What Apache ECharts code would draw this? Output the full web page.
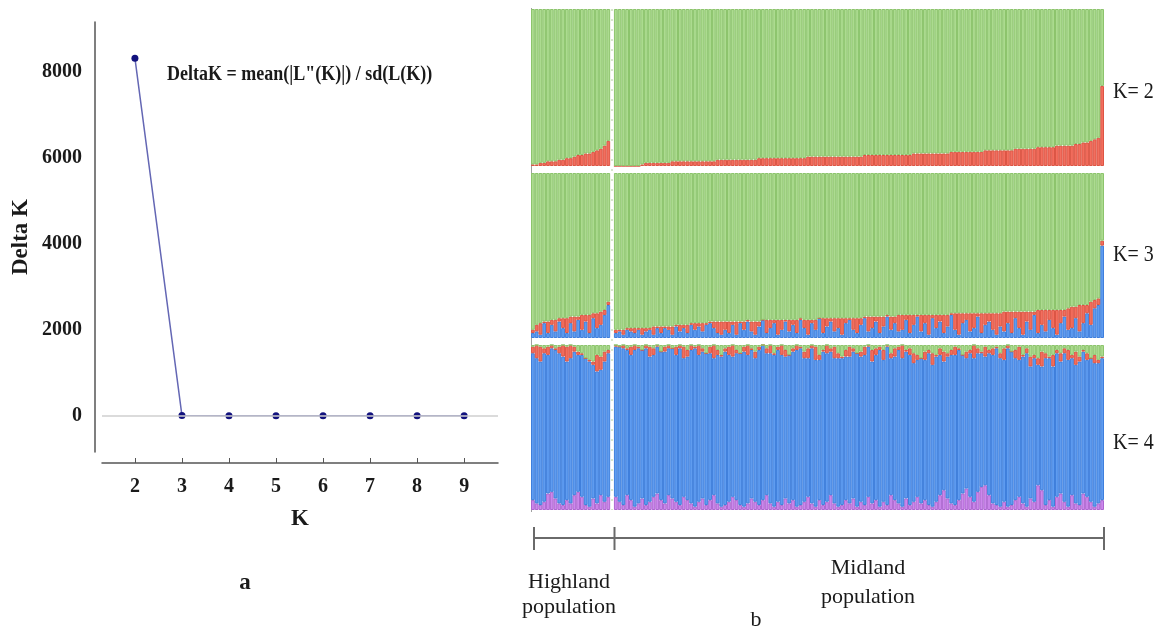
<!DOCTYPE html>
<html><head><meta charset="utf-8">
<script src="https://cdn.jsdelivr.net/npm/echarts@6/dist/echarts.min.js"></script>
<style>html,body{margin:0;padding:0;background:#fff}#c{width:1162px;height:630px}</style>
</head><body><div id="c"></div>
<script>
// ---------- Panel a: Delta K ----------
const kValues = [2, 3, 4, 5, 6, 7, 8, 9];
const deltaK = [8330, 2, 1, 1, 1, 1, 1, 1];
const yTickValues = [0, 2000, 4000, 6000, 8000];

// ---------- Panel b: ancestry proportions (%) ----------
// K = 2 (red share; green is the remainder)
const hlK2Red = [1,1,2,2,3,3,3,4,4,5,5,6,7,7,8,8,9,10,11,13,16];
const mlK2Red = [0,0,0,0,0,0,0,1,
  2,2,2,2,2,2,2,3,3,3,3,3,3,3,3,3,3,3,3,4,4,4,
  4,4,4,4,4,4,4,4,5,5,5,5,5,5,5,5,5,5,5,5,5,6,6,6,6,6,6,6,6,6,6,6,6,6,6,6,7,7,7,7,7,7,7,7,7,7,
  7,7,7,8,8,8,8,8,8,8,8,8,8,9,9,9,9,9,9,9,9,9,10,10,10,10,10,
  10,10,10,11,11,11,11,11,11,12,12,12,12,12,13,13,13,13,
  13,14,14,15,15,16,17,
  18,51];
// K = 3 (blue bottom, red middle; green is the remainder)
const hlK3Blue = [3,4,2,9,3,8,4,10,6,3,9,4,11,5,10,3,12,6,8,14,20];
const hlK3Red  = [2,4,7,1,7,3,7,2,6,9,4,9,2,9,4,11,3,9,8,3,2];
const mlK3Blue = [3,4,2,5,4,3,5,2,
  4,5,2,6,3,6,5,2,7,4,6,3,8,5,7,4,8,9,6,3,2,5,
  3,8,2,9,5,10,4,2,7,11,3,6,9,2,5,10,4,8,3,11,6,2,9,5,12,3,7,10,4,6,2,9,11,5,3,8,12,4,6,10,3,7,13,5,9,4,
  5,11,3,8,13,4,9,2,12,6,10,3,7,14,5,2,9,11,4,6,13,3,8,10,5,2,7,
  4,9,3,12,6,2,10,5,14,3,8,4,11,6,2,9,13,5,
  6,12,4,9,15,8,18,
  20,56];
const mlK3Red = [2,1,3,1,2,3,1,4,
  2,1,5,1,4,1,2,5,1,4,2,5,1,4,2,5,1,1,4,7,8,5,
  7,2,8,1,5,1,6,8,3,0,8,5,2,9,6,1,7,3,8,1,5,9,2,6,0,9,5,2,8,6,10,3,1,7,9,4,1,9,7,3,10,6,1,8,4,10,
  9,3,11,6,1,10,5,12,2,8,4,11,7,1,10,13,6,4,11,9,2,12,7,5,10,13,8,
  12,7,13,4,10,14,6,11,2,14,9,13,6,11,15,8,4,13,
  13,7,16,11,5,14,5,
  4,3];
// K = 4 (purple bottom, blue = remainder, red, green top)
const hlK4Purple = [6,4,3,5,10,11,7,4,3,6,4,9,11,8,3,2,7,4,9,5,8];
const hlK4Red    = [4,8,9,3,5,2,1,4,7,9,8,3,2,1,0,1,2,10,8,6,2];
const hlK4Green  = [1,0,1,2,1,0,2,1,0,1,0,1,4,5,8,9,10,6,7,4,3];
const mlK4Purple = [8,5,3,9,6,2,4,7,3,5,8,10,6,4,9,7,5,3,8,6,
  4,2,5,7,3,6,9,4,2,3,5,8,6,3,2,4,7,5,3,6,
  9,4,2,5,3,7,4,6,2,3,5,8,4,2,6,3,5,9,4,2,
  3,6,4,7,2,5,3,8,4,6,2,5,3,9,6,4,2,7,3,5,
  8,4,6,3,2,5,9,12,7,4,3,6,10,13,8,5,11,14,15,9,
  4,3,2,5,2,3,6,8,4,2,7,5,15,12,3,6,2,8,10,5,
  2,9,4,3,10,8,5,2,4,6];
const mlK4Red = [1,0,2,1,5,3,1,0,2,6,4,1,0,3,2,0,5,2,7,4,
  3,1,6,2,0,4,8,3,1,2,5,7,2,0,3,6,1,4,2,0,
  3,5,1,2,6,4,0,2,3,1,4,6,2,8,3,1,5,2,7,3,
  1,4,6,2,0,3,5,1,7,4,2,6,1,3,5,2,8,1,4,6,
  3,0,5,2,7,1,4,6,2,3,5,1,0,4,2,8,3,1,6,2,
  4,1,3,7,2,0,5,8,1,3,6,2,4,9,3,1,7,2,5,3,
  6,2,8,3,1,4,0,5,2,1];
const mlK4Green = [0,1,0,2,1,0,1,3,0,1,2,0,4,1,0,2,1,0,1,3,
  0,1,0,2,5,1,0,3,6,2,1,0,3,5,1,0,2,4,1,0,
  2,0,5,1,0,3,6,2,0,1,4,2,0,1,6,3,0,2,1,5,
  7,3,1,2,5,4,1,0,3,2,1,3,0,5,2,1,0,3,2,5,
  6,8,4,3,5,6,2,4,5,3,1,2,6,4,3,0,2,4,1,3,
  2,1,5,2,0,4,3,1,6,2,7,6,8,4,5,7,6,3,5,2,
  3,6,4,7,3,5,8,6,9,7];

const rowLabels = ['K= 2', 'K= 3', 'K= 4'];

// ---------- build ----------
const cats = hlK2Red.map((_, i) => 'H' + (i + 1)).concat([''], mlK2Red.map((_, i) => 'M' + (i + 1)));
const join = (h, m) => h.concat([null], m);
const rest = (...arrs) => arrs[0].map((v, i) => v === null ? null : 100 - arrs.reduce((s, a) => s + a[i], 0));

const k2Red = join(hlK2Red, mlK2Red);
const k2Green = rest(k2Red);
const k3Blue = join(hlK3Blue, mlK3Blue);
const k3Red = join(hlK3Red, mlK3Red);
const k3Green = rest(k3Blue, k3Red);
const k4Purple = join(hlK4Purple, mlK4Purple);
const k4Red = join(hlK4Red, mlK4Red);
const k4Green = join(hlK4Green, mlK4Green);
const k4Blue = rest(k4Purple, k4Red, k4Green);

const COL = {
  green: ['#acdb90', '#8cc46c'],
  red: ['#f36e5e', '#dc5544'],
  blue: ['#5f9cf0', '#3f7fdc'],
  purple: ['#cc88ec', '#ad66d0']
};
const serif = '"Liberation Serif", "DejaVu Serif", serif';

function barSeries(name, data, col, idx) {
  return {
    type: 'bar', name, data, stack: 'k' + idx,
    xAxisIndex: idx, yAxisIndex: idx,
    barCategoryGap: '0%',
    itemStyle: { color: COL[col][0], borderColor: COL[col][1], borderWidth: 1 },
    emphasis: { disabled: true }, silent: true
  };
}

const rows = [
  { top: 9, height: 157 },
  { top: 173, height: 165 },
  { top: 345, height: 165 }
];

const option = {
  animation: false,
  backgroundColor: '#ffffff',
  grid: [
    { left: 102, top: 22, width: 396, height: 430 },
    ...rows.map(r => ({ left: 531, width: 573, top: r.top, height: r.height }))
  ],
  xAxis: [
    {
      type: 'value', gridIndex: 0, min: 1.3, max: 9.72, offset: 11,
      axisLine: { show: true, onZero: false, lineStyle: { color: '#555', width: 1.5 } },
      axisTick: { show: true, inside: true, length: 5, customValues: kValues, lineStyle: { color: '#555' } },
      axisLabel: { customValues: kValues, margin: 14, fontFamily: serif, fontWeight: 'bold', fontSize: 20, color: '#1a1a1a' },
      splitLine: { show: false },
      name: 'K', nameLocation: 'middle', nameGap: 45,
      nameTextStyle: { fontFamily: serif, fontWeight: 'bold', fontSize: 23, color: '#1a1a1a' }
    },
    ...[1, 2, 3].map(i => ({ type: 'category', gridIndex: i, data: cats, show: false }))
  ],
  yAxis: [
    {
      type: 'value', gridIndex: 0, min: -846, max: 9172, offset: 7,
      axisLine: { show: true, onZero: false, lineStyle: { color: '#555', width: 1.5 } },
      axisTick: { show: false },
      axisLabel: { customValues: yTickValues, margin: 13, formatter: v => String(v), fontFamily: serif, fontWeight: 'bold', fontSize: 20, color: '#1a1a1a' },
      splitLine: { show: false },
      name: 'Delta K', nameLocation: 'middle', nameGap: 62, nameRotate: 90,
      nameTextStyle: { fontFamily: serif, fontWeight: 'bold', fontSize: 23, color: '#1a1a1a' }
    },
    ...[1, 2, 3].map(i => ({ type: 'value', gridIndex: i, min: 0, max: 100, show: false }))
  ],
  series: [
    {
      type: 'line', xAxisIndex: 0, yAxisIndex: 0,
      data: kValues.map((k, i) => [k, deltaK[i]]),
      symbol: 'circle', symbolSize: 7,
      itemStyle: { color: '#12127e' },
      lineStyle: { color: '#6467b4', width: 1.5 },
      silent: true,
      markLine: {
        silent: true, symbol: 'none', label: { show: false },
        lineStyle: { color: '#cfcfcf', width: 1.5, type: 'solid' },
        data: [{ yAxis: 0 }]
      },
      z: 3
    },
    barSeries('K2 cluster 1', k2Red, 'red', 1),
    barSeries('K2 cluster 2', k2Green, 'green', 1),
    barSeries('K3 cluster 1', k3Blue, 'blue', 2),
    barSeries('K3 cluster 2', k3Red, 'red', 2),
    barSeries('K3 cluster 3', k3Green, 'green', 2),
    barSeries('K4 cluster 1', k4Purple, 'purple', 3),
    barSeries('K4 cluster 2', k4Blue, 'blue', 3),
    barSeries('K4 cluster 3', k4Red, 'red', 3),
    barSeries('K4 cluster 4', k4Green, 'green', 3)
  ],
  graphic: [
    { type: 'text', x: 167, y: 75, scaleY: 1.12, style: { text: 'DeltaK = mean(|L"(K)|) / sd(L(K))', font: 'bold 18px ' + serif, fill: '#1a1a1a', textAlign: 'left', textVerticalAlign: 'middle' } },
    { type: 'text', x: 245, y: 583, style: { text: 'a', font: 'bold 23px ' + serif, fill: '#1a1a1a', textAlign: 'center', textVerticalAlign: 'middle' } },
    { type: 'line', shape: { x1: 531.5, y1: 8, x2: 531.5, y2: 512 }, style: { stroke: '#a0a0a0', lineWidth: 1 } },
    { type: 'line', shape: { x1: 612, y1: 9, x2: 612, y2: 510 }, style: { stroke: '#d6e6cc', lineWidth: 2, lineDash: [2, 8] } },
    { type: 'text', x: 1113, y: 92, scaleY: 1.15, style: { text: rowLabels[0], font: '20px ' + serif, fill: '#1a1a1a', textAlign: 'left', textVerticalAlign: 'middle' } },
    { type: 'text', x: 1113, y: 255, scaleY: 1.15, style: { text: rowLabels[1], font: '20px ' + serif, fill: '#1a1a1a', textAlign: 'left', textVerticalAlign: 'middle' } },
    { type: 'text', x: 1113, y: 443, scaleY: 1.15, style: { text: rowLabels[2], font: '20px ' + serif, fill: '#1a1a1a', textAlign: 'left', textVerticalAlign: 'middle' } },
    { type: 'line', shape: { x1: 534, y1: 538, x2: 1104, y2: 538 }, style: { stroke: '#6a6a6a', lineWidth: 2 } },
    { type: 'line', shape: { x1: 534, y1: 527, x2: 534, y2: 550 }, style: { stroke: '#6a6a6a', lineWidth: 2 } },
    { type: 'line', shape: { x1: 614.5, y1: 527, x2: 614.5, y2: 550 }, style: { stroke: '#6a6a6a', lineWidth: 2 } },
    { type: 'line', shape: { x1: 1104, y1: 527, x2: 1104, y2: 550 }, style: { stroke: '#6a6a6a', lineWidth: 2 } },
    { type: 'text', x: 569, y: 582, style: { text: 'Highland', font: '22px ' + serif, fill: '#1a1a1a', textAlign: 'center', textVerticalAlign: 'middle' } },
    { type: 'text', x: 569, y: 607, style: { text: 'population', font: '22px ' + serif, fill: '#1a1a1a', textAlign: 'center', textVerticalAlign: 'middle' } },
    { type: 'text', x: 868, y: 568, style: { text: 'Midland', font: '22px ' + serif, fill: '#1a1a1a', textAlign: 'center', textVerticalAlign: 'middle' } },
    { type: 'text', x: 868, y: 597, style: { text: 'population', font: '22px ' + serif, fill: '#1a1a1a', textAlign: 'center', textVerticalAlign: 'middle' } },
    { type: 'text', x: 756, y: 620, style: { text: 'b', font: '22px ' + serif, fill: '#1a1a1a', textAlign: 'center', textVerticalAlign: 'middle' } }
  ]
};

const chart = echarts.init(document.getElementById('c'), null, { renderer: 'canvas' });
chart.setOption(option);
</script>
</body></html>
